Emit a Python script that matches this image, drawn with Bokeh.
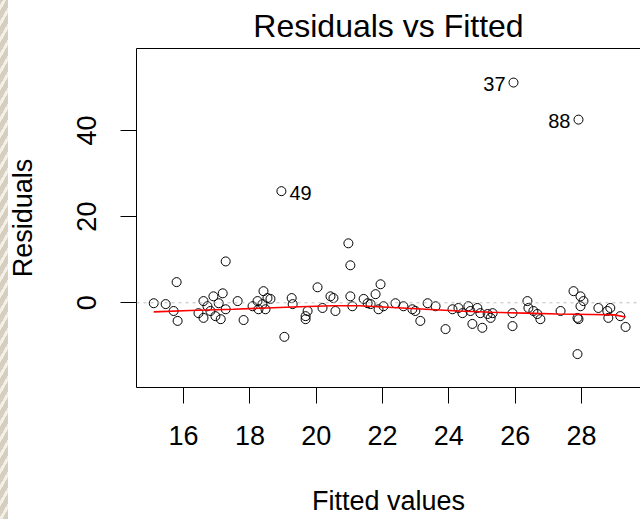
from bokeh.plotting import figure
from bokeh.models import Range1d, LinearAxis, FixedTicker, Span
from bokeh.core.properties import value
from bokeh.embed import file_html
from bokeh.resources import INLINE

# Fitted values and residuals of the linear model
fitted = [15.10, 15.46, 15.70, 15.82, 15.79, 17.27, 16.60, 16.45, 16.60, 16.72,
          16.81, 16.90, 17.18, 17.06, 17.12, 16.96, 17.27, 17.63, 17.81, 18.08,
          18.23, 18.26, 18.41, 18.53, 18.62, 18.47, 18.38, 19.04, 19.26, 19.29,
          19.68, 19.68, 19.74, 20.04, 20.19, 20.43, 20.52, 20.58, 21.03, 20.97,
          21.03, 21.09, 21.43, 21.55, 21.64, 21.79, 21.94, 21.88, 22.03, 22.39,
          22.63, 22.90, 22.99, 23.14, 23.36, 23.60, 23.90, 24.11, 24.29, 24.41,
          24.59, 24.65, 24.71, 24.86, 24.95, 25.01, 25.17, 25.26, 25.32, 25.92,
          25.92, 26.37, 26.40, 26.55, 26.67, 26.76, 27.37, 27.76, 27.97, 27.88,
          27.91, 27.88, 27.97, 28.06, 28.51, 28.78, 28.87, 28.81, 29.17, 29.33,
          18.95, 25.95, 27.91]
residuals = [-0.1, -0.3, -1.9, -4.2, 4.8, 9.6, 0.4, -2.4, -3.5, -0.8,
             -1.9, 1.5, 2.2, -0.1, -3.8, -3.1, -1.5, 0.4, -4.0, -0.8,
             0.4, -1.5, 2.7, 1.1, 0.9, -1.5, -0.3, -7.9, 1.1, -0.3,
             -3.1, -3.8, -1.9, 3.6, -1.2, 1.5, 1.1, -1.9, 8.7, 13.8,
             1.5, -0.8, 0.9, -0.1, -0.3, 2.0, 4.3, -1.5, -0.8, -0.1,
             -0.8, -1.5, -1.9, -4.2, -0.1, -0.8, -6.1, -1.5, -1.2, -2.4,
             -0.8, -1.9, -4.9, -1.2, -2.4, -5.8, -2.6, -3.5, -2.4, -2.4,
             -5.4, 0.4, -1.2, -1.9, -2.6, -3.8, -1.9, 2.7, 1.5, -3.5,
             -3.8, -11.9, -0.8, 0.4, -1.2, -1.9, -1.2, -3.5, -3.1, -5.6,
             25.9, 51.1, 42.5]

# Lowess smooth of residuals against fitted values
smooth_x = [15.10, 16.2, 17.5, 18.5, 19.5, 20.5, 21.3, 22.3, 23.3, 24.3,
            25.3, 26.3, 27.3, 28.3, 29.0, 29.33]
smooth_y = [-2.1, -1.8, -1.5, -1.2, -0.9, -0.7, -0.7, -1.1, -1.5, -1.9,
            -2.2, -2.4, -2.6, -2.7, -2.8, -3.3]

# Observations flagged by id
right_ids = ["49"]
right_x = [18.95]
right_y = [25.9]
left_ids = ["37", "88"]
left_x = [25.95, 27.91]
left_y = [51.1, 42.5]

x_ticks = [16, 18, 20, 22, 24, 26, 28]
y_ticks = [0, 20, 40]

FONT = "Liberation Sans"

p = figure(width=640, height=519, output_backend="svg", toolbar_location=None,
           x_range=Range1d(14.58, 29.78), y_range=Range1d(-19.65, 59.0),
           x_axis_type=None, y_axis_type=None,
           min_border_left=136, min_border_right=0,
           min_border_top=47, min_border_bottom=132,
           outline_line_color=None, background_fill_color="white",
           border_fill_color=None)

# page background: white with a narrow textured band on the far left
p.styles = {
    "background-color": "white",
    "background-image": "repeating-linear-gradient(-60deg, #d6cfbf 0px, #d6cfbf 5px, "
                        "#f3efe6 5px, #f3efe6 8px)",
    "background-size": "8px 100%",
    "background-repeat": "no-repeat",
}

p.title.text = "Residuals vs Fitted"
p.title.text_font = FONT
p.title.text_font_size = "32px"
p.title.text_font_style = "normal"
p.title.text_color = "black"
p.title.align = "center"
p.title.standoff = 10
p.title.offset = 0

def style_axis(ax):
    ax.axis_line_color = "black"
    ax.axis_line_width = 1
    ax.major_tick_line_color = "black"
    ax.major_tick_line_width = 1
    ax.major_tick_in = 0
    ax.major_tick_out = 16
    ax.minor_tick_line_color = None
    ax.major_label_text_font = FONT
    ax.major_label_text_font_size = "27px"
    ax.major_label_text_color = "black"
    ax.axis_label_text_font = FONT
    ax.axis_label_text_font_size = "27px"
    ax.axis_label_text_font_style = "normal"
    ax.axis_label_text_color = "black"

xaxis = LinearAxis(ticker=FixedTicker(ticks=x_ticks), axis_label="Fitted values")
style_axis(xaxis)
xaxis.major_label_standoff = 22
xaxis.axis_label_standoff = 38
p.add_layout(xaxis, "below")

yaxis = LinearAxis(ticker=FixedTicker(ticks=y_ticks), axis_label="Residuals")
style_axis(yaxis)
yaxis.major_label_orientation = "vertical"
yaxis.major_label_standoff = 24
yaxis.axis_label_standoff = 37
p.add_layout(yaxis, "left")

# plain line closing the top of the plotting box
top = LinearAxis(ticker=FixedTicker(ticks=[]))
top.axis_line_color = "black"
top.major_tick_line_color = None
top.minor_tick_line_color = None
top.major_tick_out = 0
top.major_label_text_font_size = "0px"
p.add_layout(top, "above")

zero = Span(location=0, dimension="width", line_color="#bebebe",
            line_dash="3 4", line_width=1)
p.add_layout(zero)

p.scatter(fitted, residuals, marker="circle", size=9, fill_color=None,
          line_color="black", line_width=1)

p.line(smooth_x, smooth_y, line_color="red", line_width=1.6)

p.text(x=right_x, y=right_y, text=right_ids, x_offset=8, y_offset=2,
       text_align="left", text_baseline="middle",
       text_font=value(FONT), text_font_size="20px", text_color="black")
p.text(x=left_x, y=left_y, text=left_ids, x_offset=-8, y_offset=1,
       text_align="right", text_baseline="middle",
       text_font=value(FONT), text_font_size="20px", text_color="black")

open("out.html", "w").write(file_html(p, INLINE))
